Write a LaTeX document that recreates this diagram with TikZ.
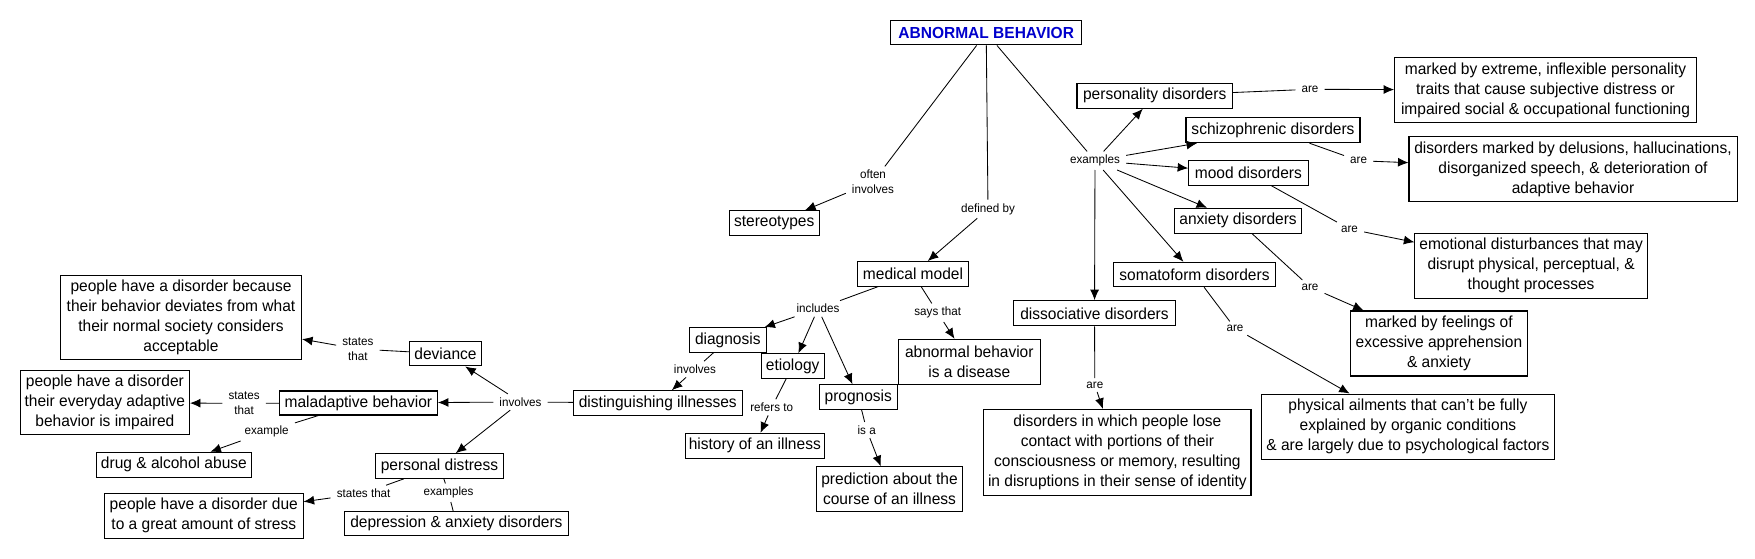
\documentclass[tikz,border=0pt]{standalone}
\usepackage{fontspec}
\setmainfont[FakeStretch=0.97]{Liberation Sans}
\usetikzlibrary{arrows.meta}
\definecolor{titleblue}{RGB}{0,0,204}
\begin{document}
\begin{tikzpicture}[x=1pt,y=-1pt,
  bx/.style={draw, line width=1.05pt, fill=white, inner sep=0pt, align=center,
    font=\fontsize{16}{20}\selectfont},
  lb/.style={inner xsep=6pt, inner ysep=3.5pt, align=center,
    font=\fontsize{12}{15}\selectfont},
  ln/.style={line width=0.85pt},
  ar/.style={line width=0.85pt, -{Latex[length=10.5pt,width=9pt]}}]
\useasboundingbox[fill=white] (0,0) rectangle (1755,558);

% ---------- boxes ----------
\node[bx, minimum width=191pt, minimum height=24.3pt, text=titleblue, font=\fontsize{16}{20}\selectfont\bfseries] (abn) at (986.2,32.8) {ABNORMAL BEHAVIOR};
\node[bx, minimum width=90.3pt, minimum height=24.6pt] (stereo) at (774.2,223) {stereotypes};
\node[bx, minimum width=111.4pt, minimum height=24.5pt] (med) at (913,273.8) {medical model};
\node[bx, minimum width=77pt, minimum height=24.3pt] (diag) at (727.8,339.9) {diagnosis};
\node[bx, minimum width=62.7pt, minimum height=24.6pt] (etio) at (792.7,366) {etiology};
\node[bx, minimum width=78pt, minimum height=24.6pt] (prog) at (858.3,397) {prognosis};
\node[bx, minimum width=142pt, minimum height=45pt] (dis) at (969.3,361.8) {abnormal behavior\\is a disease};
\node[bx, minimum width=169pt, minimum height=24.3pt] (dist) at (657.8,402.9) {distinguishing illnesses};
\node[bx, minimum width=139pt, minimum height=25pt] (hist) at (754.8,445.8) {history of an illness};
\node[bx, minimum width=145.6pt, minimum height=44.3pt] (pred) at (889.5,488.9) {prediction about the\\course of an illness};

\node[bx, minimum width=155.4pt, minimum height=25pt] (pers) at (1154.7,95.8) {personality disorders};
\node[bx, minimum width=301.8pt, minimum height=64.6pt] (persT) at (1545.5,90) {marked by extreme, inflexible personality\\traits that cause subjective distress or\\impaired social \& occupational functioning};
\node[bx, minimum width=174pt, minimum height=25pt] (schz) at (1273,130.2) {schizophrenic disorders};
\node[bx, minimum width=328pt, minimum height=64.6pt] (schzT) at (1573,169) {disorders marked by delusions, hallucinations,\\disorganized speech, \& deterioration of\\adaptive behavior};
\node[bx, minimum width=119.4pt, minimum height=24.6pt] (mood) at (1248.4,173) {mood disorders};
\node[bx, minimum width=232.4pt, minimum height=65pt] (moodT) at (1531.1,265.8) {emotional disturbances that may\\disrupt physical, perceptual, \&\\thought processes};
\node[bx, minimum width=126.6pt, minimum height=25pt] (anx) at (1238.1,220.8) {anxiety disorders};
\node[bx, minimum width=177pt, minimum height=65pt] (anxT) at (1438.9,343.5) {marked by feelings of\\excessive apprehension\\\& anxiety};
\node[bx, minimum width=162.6pt, minimum height=24.4pt] (soma) at (1194.5,274.5) {somatoform disorders};
\node[bx, minimum width=292.3pt, minimum height=65.3pt] (somaT) at (1407.9,426.7) {physical ailments that can't be fully\\explained by organic conditions\\\& are largely due to psychological factors};
\node[bx, minimum width=161.5pt, minimum height=25.3pt] (diss) at (1094.5,313.3) {dissociative disorders};
\node[bx, minimum width=267.2pt, minimum height=85.7pt] (dissT) at (1117.4,452.2) {disorders in which people lose\\contact with portions of their\\consciousness or memory, resulting\\in disruptions in their sense of identity};

\node[bx, minimum width=241.1pt, minimum height=84.3pt] (devT) at (181,317.8) {people have a disorder because\\their behavior deviates from what\\their normal society considers\\acceptable};
\node[bx, minimum width=71.9pt, minimum height=24.3pt] (dev) at (445.5,353.8) {deviance};
\node[bx, minimum width=169.1pt, minimum height=64.3pt] (malT) at (104.9,402.8) {people have a disorder\\their everyday adaptive\\behavior is impaired};
\node[bx, minimum width=158pt, minimum height=24pt] (mal) at (358.4,403) {maladaptive behavior};
\node[bx, minimum width=155pt, minimum height=25pt] (drug) at (173.9,464.8) {drug \& alcohol abuse};
\node[bx, minimum width=127.5pt, minimum height=24.6pt] (pdis) at (439.5,466) {personal distress};
\node[bx, minimum width=198.6pt, minimum height=44.7pt] (pdisT) at (203.8,515.7) {people have a disorder due\\to a great amount of stress};
\node[bx, minimum width=223.9pt, minimum height=24.3pt] (depr) at (456.4,523.8) {depression \& anxiety disorders};

% ---------- linking phrases ----------
\node[lb] (Loften) at (873,182) {often\\involves};
\node[lb] (Ldef) at (988,209) {defined by};
\node[lb] (Lex) at (1095,160.7) {examples};
\node[lb] (Linc) at (818,308.7) {includes};
\node[lb] (Lsays) at (937.7,312.7) {says that};
\node[lb] (Ldinv) at (695,369.3) {involves};
\node[lb] (Lref) at (771.7,407.3) {refers to};
\node[lb] (Lisa) at (866.7,430) {is a};
\node[lb] (Lpare) at (1310,89.3) {are};
\node[lb] (Lsare) at (1358.6,160.7) {are};
\node[lb] (Lmare) at (1349.5,229) {are};
\node[lb] (Laare) at (1310,287) {are};
\node[lb] (Lsoare) at (1235,328.3) {are};
\node[lb] (Ldare) at (1094.8,385) {are};
\node[lb] (Linv) at (520.5,402) {involves};
\node[lb] (Ldevst) at (357.8,349) {states\\that};
\node[lb] (Lmalst) at (244.2,403.3) {states\\that};
\node[lb] (Lmalex) at (266.7,431.7) {example};
\node[lb] (Lpst) at (363.6,493.3) {states that};
\node[lb] (Lpex) at (448.5,492.7) {examples};

% ---------- connectors ----------
\draw[ln] (abn) -- (Loften); \draw[ar] (Loften) -- (stereo);
\draw[ln] (abn) -- (Ldef);   \draw[ar] (Ldef) -- (med);
\draw[ln] (abn) -- (Lex);
\draw[ar] (Lex) -- (pers);
\draw[ar] (Lex) -- (schz);
\draw[ar] (Lex) -- (mood);
\draw[ar] (Lex) -- (anx);
\draw[ar] (Lex) -- (soma);
\draw[ar] (Lex) -- (diss);

\draw[ln] (pers) -- (Lpare);  \draw[ar] (Lpare) -- (persT);
\draw[ln] (schz) -- (Lsare);  \draw[ar] (Lsare) -- (schzT);
\draw[ln] (mood) -- (Lmare);  \draw[ar] (Lmare) -- (moodT);
\draw[ln] (anx) -- (Laare);   \draw[ar] (Laare) -- (anxT);
\draw[ln] (soma) -- (Lsoare); \draw[ar] (Lsoare) -- (somaT);
\draw[ln] (diss) -- (Ldare);  \draw[ar] (Ldare) -- (dissT);

\draw[ln] (med) -- (Linc);
\draw[ar] (Linc) -- (diag);
\draw[ar] (Linc) -- (etio);
\draw[ar] (Linc) -- (prog);
\draw[ln] (med) -- (Lsays); \draw[ar] (Lsays) -- (dis);
\draw[ln] (diag) -- (Ldinv); \draw[ar] (Ldinv) -- (dist);
\draw[ln] (etio) -- (Lref);  \draw[ar] (Lref) -- (hist);
\draw[ln] (prog) -- (Lisa);  \draw[ar] (Lisa) -- (pred);

\draw[ln] (dist) -- (Linv);
\draw[ar] (Linv) -- (dev);
\draw[ar] (Linv) -- (mal);
\draw[ar] (Linv) -- (pdis);
\draw[ln] (dev) -- (Ldevst); \draw[ar] (Ldevst) -- (devT);
\draw[ln] (mal) -- (Lmalst); \draw[ar] (Lmalst) -- (malT);
\draw[ln] (mal) -- (Lmalex); \draw[ar] (Lmalex) -- (drug);
\draw[ln] (pdis) -- (Lpst);  \draw[ar] (Lpst) -- (pdisT);
\draw[ln] (pdis) -- (Lpex);  \draw[ln] (Lpex) -- (depr);
\end{tikzpicture}
\end{document}
